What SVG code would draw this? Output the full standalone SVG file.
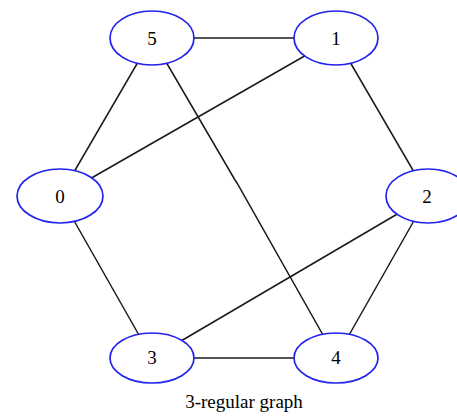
<svg xmlns="http://www.w3.org/2000/svg" width="457" height="416" viewBox="0 0 457 416">
<style>
.e{stroke:#1a1a1a;stroke-width:1.5;fill:none}
.n ellipse{fill:#fff;stroke:#2222ee;stroke-width:1.7}
.n text{font-family:"Liberation Serif",serif;font-size:19px;fill:#000;text-anchor:middle}
.t{font-family:"Liberation Serif",serif;font-size:19px;fill:#000;text-anchor:middle}
</style>
<rect width="457" height="416" fill="#fff"/>
<g id="edges">
<line class="e" x1="152" y1="38" x2="336" y2="38"/>
<line class="e" x1="152" y1="38" x2="60" y2="196"/>
<line class="e" x1="336" y1="38" x2="60" y2="196"/>
<line class="e" x1="336" y1="38" x2="428" y2="196"/>
<polyline class="e" points="152,38 235,180 237,183 336,358"/>
<line class="e" x1="428" y1="196" x2="152" y2="358"/>
<line class="e" x1="428" y1="196" x2="336" y2="358"/>
<line class="e" x1="60" y1="196" x2="152" y2="358"/>
<line class="e" x1="152" y1="358" x2="336" y2="358"/>
</g>
<g id="node5" class="n"><ellipse cx="152" cy="38" rx="42" ry="27"/><text x="152" y="45">5</text></g>
<g id="node1" class="n"><ellipse cx="336" cy="38" rx="42" ry="27"/><text x="336" y="45">1</text></g>
<g id="node0" class="n"><ellipse cx="60" cy="196" rx="43" ry="27"/><text x="60" y="203">0</text></g>
<g id="node2" class="n"><ellipse cx="428" cy="196" rx="42" ry="27"/><text x="427" y="203">2</text></g>
<g id="node3" class="n"><ellipse cx="152" cy="358" rx="42" ry="25"/><text x="152" y="364">3</text></g>
<g id="node4" class="n"><ellipse cx="336" cy="358" rx="42" ry="25"/><text x="336" y="364">4</text></g>
<text class="t" x="244" y="408">3-regular graph</text>
</svg>
